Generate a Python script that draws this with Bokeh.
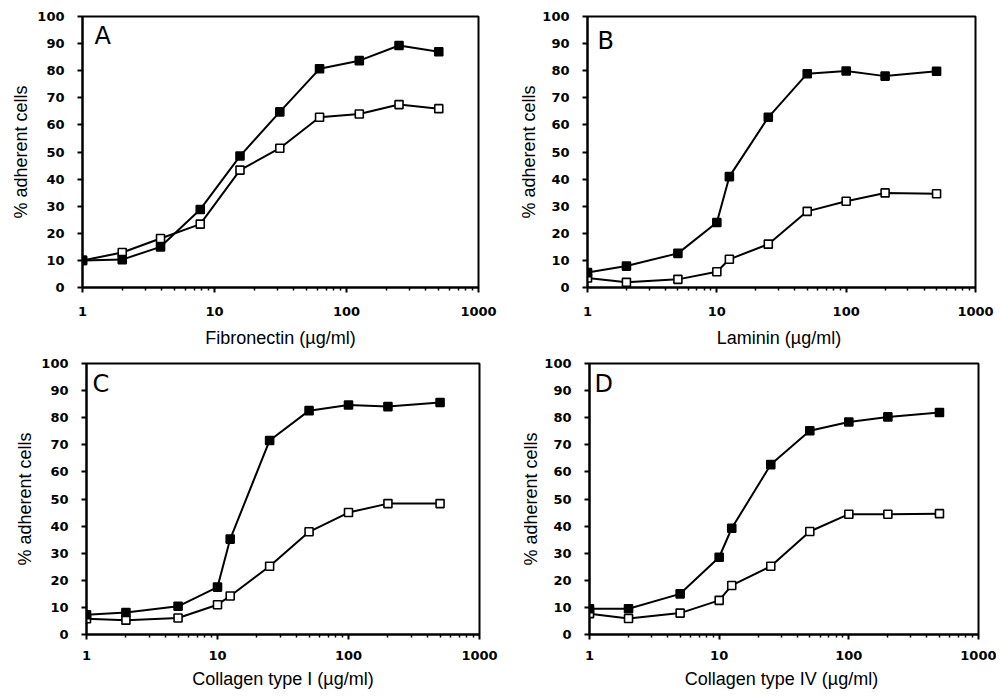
from bokeh.plotting import figure
from bokeh.layouts import row, column
from bokeh.models import FixedTicker, PrintfTickFormatter, Range1d
from bokeh.core.properties import value
from bokeh.embed import file_html
from bokeh.resources import INLINE

# ---- data ----
x_fn = [1, 2, 3.9, 7.8, 15.6, 31.25, 62.5, 125, 250, 500]
fn_filled = [10, 10.3, 15, 28.8, 48.5, 64.8, 80.7, 83.7, 89.3, 87]
fn_open = [10, 12.9, 18.1, 23.4, 43.3, 51.4, 62.8, 64, 67.5, 66]

x_conc = [1, 2, 5, 10, 12.5, 25, 50, 100, 200, 500]
ln_filled = [5.5, 7.9, 12.6, 24, 40.9, 62.8, 78.9, 79.9, 78, 79.8]
ln_open = [3.5, 1.9, 3, 5.8, 10.4, 16, 28.1, 31.8, 34.9, 34.6]
c1_filled = [7.3, 8.1, 10.4, 17.5, 35.2, 71.6, 82.6, 84.7, 84.1, 85.6]
c1_open = [5.8, 5.3, 6.1, 11, 14.2, 25.2, 37.9, 45, 48.3, 48.3]
c4_filled = [9.5, 9.5, 15, 28.5, 39.2, 62.7, 75.2, 78.4, 80.3, 81.9]
c4_open = [7.7, 5.9, 7.9, 12.6, 18.1, 25.2, 38, 44.4, 44.4, 44.6]

x_major = [1, 10, 100, 1000]
x_minor = [m * d for d in (1, 10, 100) for m in range(2, 10)]
y_major = list(range(0, 101, 10))

panel_letters = ["A", "B", "C", "D"]
x_titles = ["Fibronectin (\u00b5g/ml)", "Laminin  (\u00b5g/ml)",
            "Collagen type I (\u00b5g/ml)", "Collagen type IV  (\u00b5g/ml)"]
y_title = "% adherent cells"

TICK_FONT = "DejaVu Sans"
LABEL_FONT = "Liberation Sans"


def make_panel(xs, filled, opened, letter, xtitle, width, height, bl, br, bt, bb,
               letter_dx, letter_dy, ylab_standoff, xtick_standoff, xlab_standoff):
    p = figure(width=width, height=height, x_axis_type="log",
               x_range=Range1d(1, 1000), y_range=Range1d(0, 100),
               output_backend="svg", toolbar_location=None,
               min_border_left=bl, min_border_right=br,
               min_border_top=bt, min_border_bottom=bb)
    p.grid.visible = False
    p.outline_line_color = "black"
    p.outline_line_width = 2
    p.outline_line_alpha = 1
    p.background_fill_color = "white"
    p.border_fill_color = "white"

    p.xaxis.ticker = FixedTicker(ticks=x_major, minor_ticks=x_minor)
    p.xaxis.formatter = PrintfTickFormatter(format="%d")
    p.yaxis.ticker = FixedTicker(ticks=y_major)

    for ax in (p.xaxis, p.yaxis):
        ax.axis_line_width = 2
        ax.axis_line_color = "black"
        ax.major_tick_line_width = 2
        ax.major_tick_line_color = "black"
        ax.major_tick_in = 0
        ax.major_tick_out = 5
        ax.minor_tick_line_width = 1.5
        ax.minor_tick_line_color = "black"
        ax.minor_tick_in = 0
        ax.minor_tick_out = 3
        ax.major_label_text_font = TICK_FONT
        ax.major_label_text_font_style = "bold"
        ax.major_label_text_font_size = "13px"
        ax.major_label_text_color = "black"
        ax.axis_label_text_font = LABEL_FONT
        ax.axis_label_text_font_style = "normal"
        ax.axis_label_text_font_size = "18px"
        ax.axis_label_text_color = "black"
    p.yaxis.major_label_standoff = 13
    p.xaxis.major_label_standoff = xtick_standoff
    p.yaxis.axis_label = y_title
    p.xaxis.axis_label = xtitle
    p.yaxis.axis_label_standoff = ylab_standoff
    p.xaxis.axis_label_standoff = xlab_standoff

    # open squares series
    p.line(xs, opened, line_color="black", line_width=2)
    p.scatter(xs, opened, marker="square", size=8, fill_color="white",
              line_color="black", line_width=1.6)
    # filled squares series
    p.line(xs, filled, line_color="black", line_width=2)
    p.scatter(xs, filled, marker="square", size=8, fill_color="black",
              line_color="black", line_width=1.6)

    p.text(x=[1], y=[100], text=[letter], x_offset=letter_dx, y_offset=letter_dy,
           text_baseline="top", text_align="left",
           text_font=value("DejaVu Sans"), text_font_size="24px",
           text_color="black")
    return p


pA = make_panel(x_fn, fn_filled, fn_open, panel_letters[0], x_titles[0],
                513, 355, 82, 35, 16, 68, 12, 5, 3, 14, 9)
pB = make_panel(x_conc, ln_filled, ln_open, panel_letters[1], x_titles[1],
                483, 355, 74, 21, 16, 68, 10, 10, 0, 14, 9)
pC = make_panel(x_conc, c1_filled, c1_open, panel_letters[2], x_titles[2],
                515, 339, 86, 36, 8, 59, 6, 6, 3, 11, 6)
pD = make_panel(x_conc, c4_filled, c4_open, panel_letters[3], x_titles[3],
                481, 339, 74, 18, 7, 60, 5, 6, 0, 11, 6)

layout = column(row(pA, pB), row(pC, pD))
open("out.html", "w").write(file_html(layout, INLINE))
